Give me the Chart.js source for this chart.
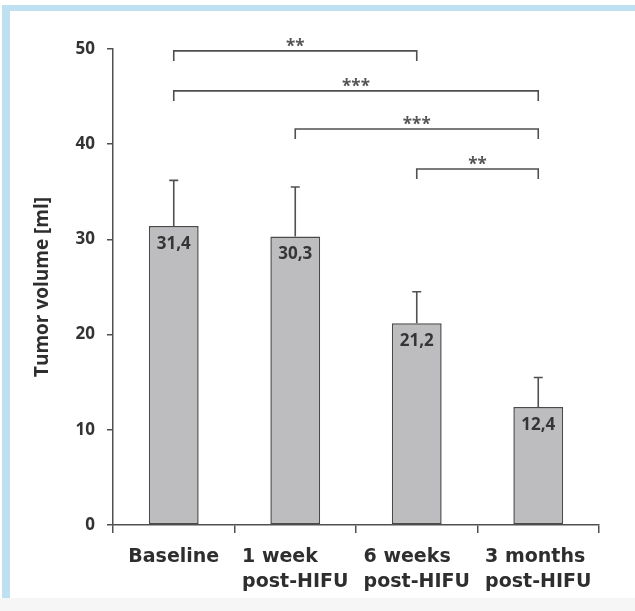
<!DOCTYPE html>
<html>
<head>
<meta charset="utf-8">
<script src="https://cdn.jsdelivr.net/npm/chart.js@4.4.1/dist/chart.umd.min.js"></script>
<style>
    body { margin: 0; background: #fafcfd; }
    #wrap { position: relative; width: 635px; height: 611px; background: #fff; overflow: hidden; }
    #frameTop { position: absolute; left: 2px; top: 5px; right: 0; height: 6px; background: #bfe0f1; }
    #frameLeft { position: absolute; left: 2px; top: 5px; width: 8px; bottom: 13px; background: #bfe0f1; }
    #frameBottom { position: absolute; left: 0; right: 0; bottom: 0; height: 13px; background: #f6f6f6; }
    #chart { position: absolute; left: 0; top: 0; }
</style>
</head>
<body>
<div id="wrap">
    <div id="frameTop"></div>
    <div id="frameLeft"></div>
    <div id="frameBottom"></div>
    <canvas id="chart" width="635" height="611"></canvas>
</div>
<script>
const categories = [['Baseline'], ['1 week', 'post-HIFU'], ['6 weeks', 'post-HIFU'], ['3 months', 'post-HIFU']];
const volumes = [31.4, 30.3, 21.2, 12.4];
const errorUp = [4.8, 5.2, 3.3, 3.1];
const yTicks = [0, 10, 20, 30, 40, 50];

// significance brackets: from bar index, to bar index, height (ml), label
const bracketFrom = [0, 0, 1, 2];
const bracketTo = [2, 3, 3, 3];
const bracketLevel = [49.8, 45.6, 41.6, 37.4];
const bracketStars = ['**', '***', '***', '**'];

const lineColor = '#505050';

const errorBars = {
    id: 'errorBars',
    afterDatasetsDraw(chart) {
        const ctx = chart.ctx, y = chart.scales.y;
        const meta = chart.getDatasetMeta(0);
        ctx.save();
        ctx.strokeStyle = lineColor;
        ctx.lineWidth = 1.6;
        meta.data.forEach((bar, i) => {
            const top = y.getPixelForValue(volumes[i] + errorUp[i]);
            ctx.beginPath();
            ctx.moveTo(bar.x, bar.y);
            ctx.lineTo(bar.x, top);
            ctx.moveTo(bar.x - 4.5, top);
            ctx.lineTo(bar.x + 4.5, top);
            ctx.stroke();
        });
        // value labels inside the bars
        ctx.fillStyle = '#353535';
        ctx.font = 'bold 17px "Open Sans"';
        ctx.textAlign = 'center';
        ctx.textBaseline = 'middle';
        meta.data.forEach((bar, i) => {
            ctx.fillText(volumes[i].toFixed(1).replace('.', ','), bar.x, bar.y + 18);
        });
        ctx.restore();
    }
};

// category labels, lines left-aligned inside a centred block
const xLabels = {
    id: 'xLabels',
    afterDraw(chart) {
        const ctx = chart.ctx, x = chart.scales.x;
        ctx.save();
        ctx.fillStyle = '#2e2e2e';
        ctx.font = 'bold 19px "DejaVu Sans"';
        ctx.textAlign = 'left';
        ctx.textBaseline = 'middle';
        categories.forEach((lines, i) => {
            const w = Math.max(...lines.map(s => ctx.measureText(s).width));
            const left = x.getPixelForValue(i) - w / 2;
            lines.forEach((s, j) => ctx.fillText(s, left, x.top + 32 + j * 25));
        });
        ctx.restore();
    }
};

const brackets = {
    id: 'brackets',
    afterDraw(chart) {
        const ctx = chart.ctx, x = chart.scales.x, y = chart.scales.y;
        ctx.save();
        ctx.strokeStyle = lineColor;
        ctx.fillStyle = '#555';
        ctx.lineWidth = 1.6;
        ctx.font = 'bold 17px "Open Sans"';
        ctx.textAlign = 'center';
        ctx.textBaseline = 'alphabetic';
        bracketFrom.forEach((from, i) => {
            const x1 = x.getPixelForValue(from);
            const x2 = x.getPixelForValue(bracketTo[i]);
            const yy = y.getPixelForValue(bracketLevel[i]);
            ctx.beginPath();
            ctx.moveTo(x1, yy + 10);
            ctx.lineTo(x1, yy);
            ctx.lineTo(x2, yy);
            ctx.lineTo(x2, yy + 10);
            ctx.stroke();
            ctx.fillText(bracketStars[i], (x1 + x2) / 2, yy + 1);
        });
        ctx.restore();
    }
};

new Chart(document.getElementById('chart'), {
    type: 'bar',
    data: {
        labels: categories,
        datasets: [{
            data: volumes,
            backgroundColor: '#bdbdbf',
            borderColor: '#4a4a4a',
            borderWidth: 1.5,
            borderSkipped: false,
            categoryPercentage: 1,
            barPercentage: 0.41
        }]
    },
    options: {
        responsive: false,
        devicePixelRatio: 1,
        animation: false,
        layout: { padding: { top: 49, right: 36, bottom: 0, left: 0 } },
        plugins: { legend: { display: false }, tooltip: { enabled: false } },
        scales: {
            x: {
                afterFit(scale) { scale.height = 86; },
                grid: { drawOnChartArea: false, drawTicks: true, tickLength: 8, offset: true, color: lineColor, lineWidth: 1.5 },
                border: { color: lineColor, width: 1.5 },
                ticks: { display: false }
            },
            y: {
                min: 0,
                max: 50,
                afterFit(scale) { scale.width = 113; },
                afterBuildTicks(scale) { scale.ticks = yTicks.map(v => ({ value: v })); },
                grid: { drawOnChartArea: false, drawTicks: true, tickLength: 6, color: lineColor, lineWidth: 1.5 },
                border: { color: lineColor, width: 1.5 },
                ticks: {
                    color: '#333',
                    padding: 12,
                    font: { family: '"Open Sans"', weight: 'bold', size: 17 }
                },
                title: {
                    display: true,
                    text: 'Tumor volume [ml]',
                    color: '#2e2e2e',
                    padding: { top: 31, bottom: 0 },
                    font: { family: '"Open Sans"', weight: 'bold', size: 19 }
                }
            }
        }
    },
    plugins: [errorBars, xLabels, brackets]
});
</script>
</body>
</html>
